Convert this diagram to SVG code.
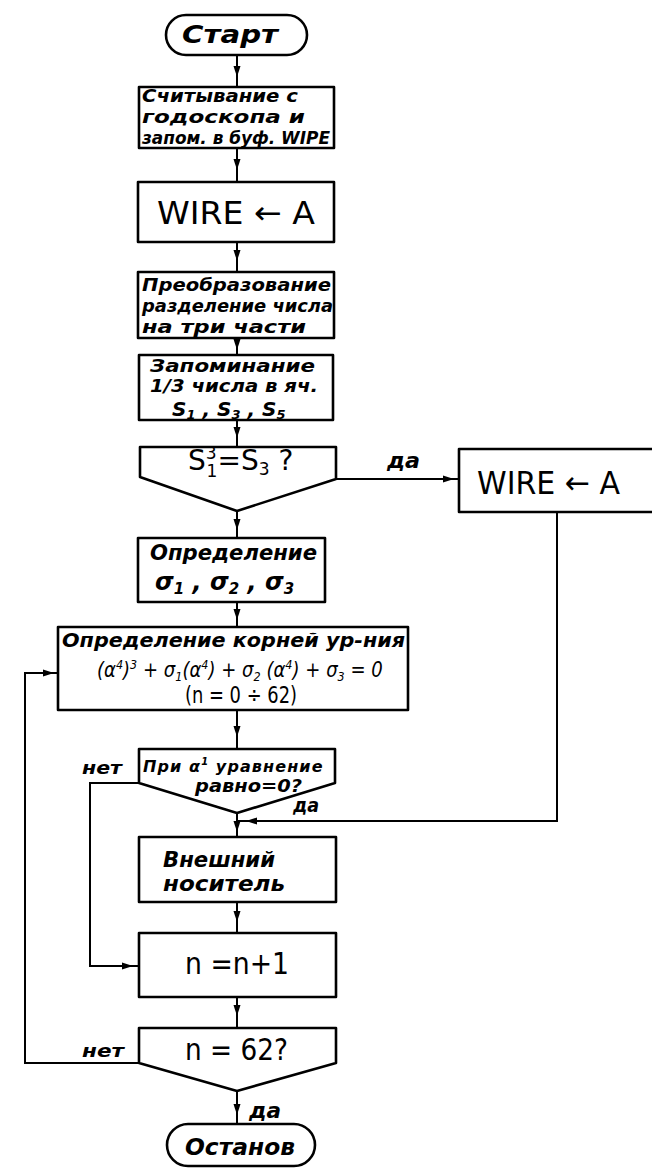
<svg xmlns="http://www.w3.org/2000/svg" xmlns:xlink="http://www.w3.org/1999/xlink" width="652" height="1168" viewBox="0 0 652 1168">
<style>
.shape{fill:#fff;stroke:#000;stroke-width:2.6;stroke-linejoin:round}
.line{fill:none;stroke:#000;stroke-width:2}
.it{font-family:"DejaVu Sans","Liberation Sans",sans-serif;font-style:italic;font-weight:bold;fill:#000}
.up{font-family:"DejaVu Sans","Liberation Sans",sans-serif;fill:#000}
.eq{font-family:"DejaVu Sans","Liberation Sans",sans-serif;font-style:italic;font-weight:normal;fill:#000}
</style>
<defs>
<path id="ah" d="M0,0 L-11,-3.5 L-11,3.5 Z" fill="#000"/>
</defs>
<rect width="652" height="1168" fill="#fff"/>

<g id="connectors">
<path class="line" d="M237,55 V87 M237,148 V182 M237,242 V272 M237,338 V355 M237,420 V447 M237,511 V538 M237,602 V627 M237,710 V749 M237,813 V837 M237,902 V933 M237,997 V1028 M237,1091 V1124"/>
<path class="line" d="M336,479 H459"/>
<path class="line" d="M557,512 V821 H237"/>
<path class="line" d="M139,783 H90 V966 H139"/>
<path class="line" d="M139,1063 H25 V673 H58"/>
<use xlink:href="#ah" transform="translate(237,77) rotate(90)"/>
<use xlink:href="#ah" transform="translate(237,170) rotate(90)"/>
<use xlink:href="#ah" transform="translate(237,261) rotate(90)"/>
<use xlink:href="#ah" transform="translate(237,350) rotate(90)"/>
<use xlink:href="#ah" transform="translate(237,438) rotate(90)"/>
<use xlink:href="#ah" transform="translate(237,530) rotate(90)"/>
<use xlink:href="#ah" transform="translate(237,620) rotate(90)"/>
<use xlink:href="#ah" transform="translate(237,737) rotate(90)"/>
<use xlink:href="#ah" transform="translate(237,832) rotate(90)"/>
<use xlink:href="#ah" transform="translate(237,922) rotate(90)"/>
<use xlink:href="#ah" transform="translate(237,1016) rotate(90)"/>
<use xlink:href="#ah" transform="translate(237,1115) rotate(90)"/>
<use xlink:href="#ah" transform="translate(454,479)"/>
<use xlink:href="#ah" transform="translate(246,821) rotate(180)"/>
<use xlink:href="#ah" transform="translate(133,966)"/>
<use xlink:href="#ah" transform="translate(54,673)"/>
<text class="it" x="387" y="468" font-size="21" textLength="33" lengthAdjust="spacingAndGlyphs">да</text>
<text class="it" x="82" y="774" font-size="17" textLength="40" lengthAdjust="spacingAndGlyphs">нет</text>
<text class="it" x="293" y="812" font-size="20" textLength="26" lengthAdjust="spacingAndGlyphs">да</text>
<text class="it" x="82" y="1057" font-size="17" textLength="42" lengthAdjust="spacingAndGlyphs">нет</text>
<text class="it" x="249" y="1118" font-size="22" textLength="32" lengthAdjust="spacingAndGlyphs">да</text>
</g>

<g id="start">
<rect class="shape" x="166" y="15" width="141" height="40" rx="20"/>
<text class="it" x="182" y="43" font-size="25" textLength="96" lengthAdjust="spacingAndGlyphs">Старт</text>
</g>

<g id="read">
<rect class="shape" x="139" y="87" width="195" height="61"/>
<text class="it" x="142" y="102" font-size="17.5" textLength="156" lengthAdjust="spacingAndGlyphs">Считывание с</text>
<text class="it" x="142" y="123" font-size="17.5" textLength="163" lengthAdjust="spacingAndGlyphs">годоскопа и</text>
<text class="it" x="142" y="144" font-size="17.5" textLength="188" lengthAdjust="spacingAndGlyphs">запом. в буф. WIPE</text>
</g>

<g id="wire1">
<rect class="shape" x="138" y="182" width="196" height="60"/>
<text class="up" x="157" y="224" font-size="32" textLength="158" lengthAdjust="spacingAndGlyphs">WIRE ← A</text>
</g>

<g id="transform">
<rect class="shape" x="138" y="272" width="196" height="66"/>
<text class="it" x="142" y="291" font-size="17.5" textLength="189" lengthAdjust="spacingAndGlyphs">Преобразование</text>
<text class="it" x="142" y="312" font-size="17.5" textLength="191" lengthAdjust="spacingAndGlyphs">разделение числа</text>
<text class="it" x="142" y="333" font-size="17.5" textLength="164" lengthAdjust="spacingAndGlyphs">на три части</text>
</g>

<g id="store">
<rect class="shape" x="139" y="355" width="194" height="65"/>
<text class="it" x="150" y="372" font-size="17" textLength="165" lengthAdjust="spacingAndGlyphs">Запоминание</text>
<text class="it" x="150" y="392" font-size="17" textLength="168" lengthAdjust="spacingAndGlyphs">1/3 числа в яч.</text>
<text class="it" x="172" y="416" font-size="20">S<tspan font-size="13" dy="3">1</tspan><tspan dy="-3"> , S</tspan><tspan font-size="13" dy="3">3</tspan><tspan dy="-3"> , S</tspan><tspan font-size="13" dy="3">5</tspan></text>
</g>

<g id="check1">
<path class="shape" d="M140,447 H336 V479 L237,511 L140,477 Z"/>
<text class="up" x="188" y="470" font-size="28">S<tspan font-size="17" dy="-11">3</tspan><tspan font-size="17" dx="-10" dy="18">1</tspan><tspan dy="-7">=S</tspan><tspan font-size="17" dy="5">3</tspan><tspan dy="-5"> ?</tspan></text>
</g>

<g id="wire2">
<rect class="shape" x="459" y="449" width="205" height="63"/>
<text class="up" x="477" y="494" font-size="32" textLength="143" lengthAdjust="spacingAndGlyphs">WIRE ← A</text>
</g>

<g id="sigma">
<rect class="shape" x="138" y="538" width="187" height="64"/>
<text class="it" x="150" y="560" font-size="21" textLength="167" lengthAdjust="spacingAndGlyphs">Определение</text>
<text class="it" x="155" y="590" font-size="24">σ<tspan font-size="15" dy="4">1</tspan><tspan dy="-4"> , σ</tspan><tspan font-size="15" dy="4">2</tspan><tspan dy="-4"> , σ</tspan><tspan font-size="15" dy="4">3</tspan></text>
</g>

<g id="roots">
<rect class="shape" x="58" y="627" width="350" height="83"/>
<text class="it" x="62" y="647" font-size="20" textLength="343" lengthAdjust="spacingAndGlyphs">Определение корней ур-ния</text>
<text class="eq" font-size="21" transform="translate(97,677) scale(0.86,1)">(α<tspan font-size="13" dy="-8">4</tspan><tspan dy="8">)</tspan><tspan font-size="13" dy="-8">3</tspan><tspan dy="8"> + σ</tspan><tspan font-size="13" dy="4">1</tspan><tspan dy="-4">(α</tspan><tspan font-size="13" dy="-8">4</tspan><tspan dy="8">) + σ</tspan><tspan font-size="13" dy="4">2</tspan><tspan dy="-4"> (α</tspan><tspan font-size="13" dy="-8">4</tspan><tspan dy="8">) + σ</tspan><tspan font-size="13" dy="4">3</tspan><tspan dy="-4"> = 0</tspan></text>
<text class="up" x="185" y="703" font-size="23" textLength="112" lengthAdjust="spacingAndGlyphs">(n = 0 ÷ 62)</text>
</g>

<g id="check2">
<path class="shape" d="M139,749 H335 V783 L237,813 L139,783 Z"/>
<text class="it" x="143" y="772" font-size="16" letter-spacing="1.1">При α<tspan font-size="10" dy="-7">1</tspan><tspan dy="7"> уравнение</tspan></text>
<text class="it" x="195" y="792" font-size="17" textLength="107" lengthAdjust="spacingAndGlyphs">равно=0?</text>
</g>

<g id="output">
<rect class="shape" x="139" y="837" width="197" height="65"/>
<text class="it" x="163" y="867" font-size="21" textLength="112" lengthAdjust="spacingAndGlyphs">Внешний</text>
<text class="it" x="163" y="891" font-size="21" textLength="122" lengthAdjust="spacingAndGlyphs">носитель</text>
</g>

<g id="increment">
<rect class="shape" x="139" y="933" width="197" height="64"/>
<text class="up" x="185" y="974" font-size="30" textLength="104" lengthAdjust="spacingAndGlyphs">n =n+1</text>
</g>

<g id="check3">
<path class="shape" d="M139,1028 H336 V1063 L237,1091 L139,1063 Z"/>
<text class="up" x="185" y="1060" font-size="30" textLength="103" lengthAdjust="spacingAndGlyphs">n = 62?</text>
</g>

<g id="stop">
<rect class="shape" x="167" y="1124" width="148" height="42" rx="21"/>
<text class="it" x="185" y="1155" font-size="23" textLength="110" lengthAdjust="spacingAndGlyphs">Останов</text>
</g>
</svg>
